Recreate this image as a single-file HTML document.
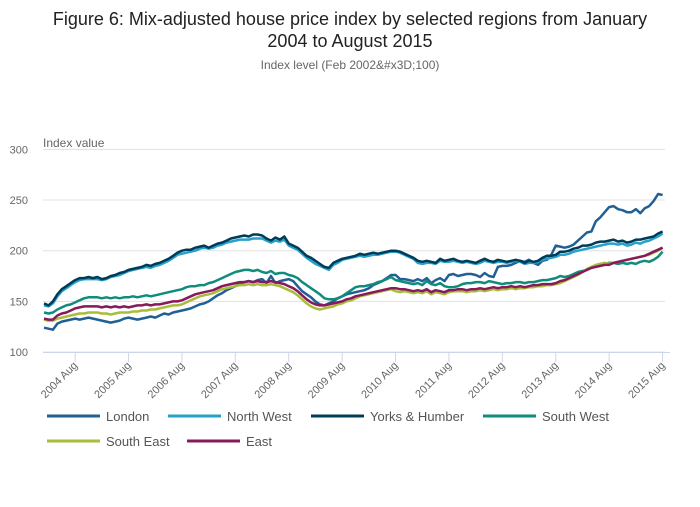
<!DOCTYPE html>
<html><head><meta charset="utf-8"><style>
body{margin:0;background:#fff;font-family:"Liberation Sans",sans-serif;}
svg text{font-family:"Liberation Sans",sans-serif;}
</style></head><body>
<svg id="chart" width="700" height="502" viewBox="0 0 700 502" xmlns="http://www.w3.org/2000/svg">
<text x="350" y="25" text-anchor="middle" font-size="18" fill="#222">Figure 6: Mix-adjusted house price index by selected regions from January</text>
<text x="350" y="47" text-anchor="middle" font-size="18" fill="#222">2004 to August 2015</text>
<text x="350" y="69" text-anchor="middle" font-size="12" fill="#666">Index level (Feb 2002&amp;#x3D;100)</text>
<text x="43" y="147" font-size="12" fill="#666">Index value</text>
<g id="grid"></g><g id="xaxis"></g><g id="series"></g><g id="legend"></g>
</svg>
<script>
const yTicks=[100,150,200,250,300];
const xTickLabels=["2004 Aug","2005 Aug","2006 Aug","2007 Aug","2008 Aug","2009 Aug","2010 Aug","2011 Aug","2012 Aug","2013 Aug","2014 Aug","2015 Aug"];
const seriesNames=["London","North West","Yorks & Humber","South West","South East","East"];
const seriesColors=["#206095","#27a0cc","#003c57","#118c7b","#a8bd3a","#871a5b"];
const london=[124,123,122,128,130,131,132,133,132,133,134,133,132,131,130,129,130,131,133,134,133,132,133,134,135,134,136,138,137,139,140,141,142,143,145,147,148,150,153,156,158,161,163,165,167,169,170,169,171,172,168,175,168,170,171,172,170,165,160,157,154,150,147,146,148,150,153,155,157,158,159,160,161,163,166,168,170,173,176,176,172,172,171,170,172,170,173,168,171,173,170,176,177,175,176,177,177,176,174,178,175,174,184,185,185,186,188,190,189,191,188,186,190,191,196,205,204,203,204,206,210,214,218,219,229,233,238,243,244,241,240,238,238,241,237,242,244,249,256,255];
const northWest=[146,145,148,155,160,163,166,169,171,172,172,172,172,171,172,174,175,176,178,180,181,182,183,184,183,185,186,188,190,193,196,197,198,199,200,202,203,202,203,205,206,208,209,210,211,211,211,212,212,212,210,208,210,209,211,205,203,201,197,193,190,187,185,183,181,186,188,191,192,193,194,195,194,195,196,196,197,198,199,199,198,196,194,192,188,187,188,188,187,190,189,189,190,189,188,189,188,187,188,190,189,188,189,189,188,189,190,189,187,188,188,189,191,192,193,194,196,196,197,199,200,201,202,203,204,205,206,207,207,206,207,205,206,208,207,209,210,212,214,217];
const yorks=[148,146,150,157,162,165,168,171,173,173,174,173,174,172,173,175,176,178,179,181,182,183,184,186,185,187,188,190,192,195,198,200,201,201,203,204,205,203,205,207,208,210,212,213,214,215,214,216,216,215,212,210,213,211,214,207,205,203,199,195,193,190,187,184,183,188,190,192,193,194,195,197,196,197,198,197,198,199,200,200,199,197,195,193,190,189,190,189,188,192,190,191,192,190,189,190,189,188,190,192,190,189,191,190,189,190,191,190,188,190,189,190,193,195,195,196,199,199,200,202,203,205,205,206,208,209,209,210,211,209,210,208,209,211,211,212,213,214,217,219];
const southWest=[139,138,139,142,144,146,147,149,151,153,154,154,154,153,154,153,154,153,154,154,155,154,155,156,155,156,157,158,159,160,161,162,164,165,165,166,166,168,169,171,173,175,177,179,180,181,181,180,181,179,178,180,177,178,178,176,175,173,169,166,163,160,157,153,152,152,153,155,158,161,164,165,165,166,167,169,170,172,174,171,170,169,168,167,168,166,170,167,166,168,165,164,164,165,167,168,168,169,169,168,170,169,168,167,168,168,169,169,168,169,169,170,171,171,172,173,175,174,175,177,179,180,181,183,185,187,187,188,188,187,188,187,188,187,189,190,189,191,194,199];
const southEast=[132,131,131,133,134,135,136,137,138,138,139,139,139,138,138,137,138,139,139,139,140,140,141,141,142,142,143,144,145,146,146,147,149,151,153,155,156,157,158,160,162,163,164,165,166,166,167,166,167,166,166,167,166,165,163,161,159,156,152,148,145,143,142,143,144,145,147,148,150,151,153,155,156,157,158,159,160,161,162,160,159,160,159,158,159,158,160,157,159,158,157,159,160,160,160,159,160,160,161,160,161,162,161,162,162,163,162,163,163,164,164,165,165,166,166,167,168,170,172,174,176,179,182,184,186,187,188,187,188,189,190,191,192,193,194,195,196,198,200,203];
const east=[133,132,132,136,138,139,141,143,144,145,145,145,145,144,145,144,145,144,145,144,145,146,146,147,146,147,147,148,149,150,150,151,153,155,157,158,159,160,161,163,165,166,167,168,169,169,170,169,170,169,169,170,169,168,167,165,163,160,156,152,149,147,146,146,147,148,149,150,152,153,155,156,157,158,159,160,161,162,163,163,162,162,161,160,161,160,162,159,161,160,159,161,161,162,162,161,162,162,163,162,163,164,163,164,164,165,164,165,164,165,166,166,167,167,167,168,170,171,173,175,177,179,181,183,184,185,186,186,188,189,190,191,192,193,194,195,197,199,201,203];
const allSeries=[london,northWest,yorks,southWest,southEast,east];

const NS="http://www.w3.org/2000/svg";
const X0=44, MW=4.45, Y100=352, PPU=1.013;
function xPos(i){return X0+i*MW;}
function yPos(v){return Y100-(v-100)*PPU;}
function mk(tag,attrs,parent){const e=document.createElementNS(NS,tag);for(const k in attrs)e.setAttribute(k,attrs[k]);parent.appendChild(e);return e;}
const grid=document.getElementById('grid');
yTicks.forEach(t=>{
  const l=mk('line',{x1:43,x2:665,y1:yPos(t),y2:yPos(t),stroke:'#e0e0e0','stroke-width':1},grid);
  
  
  const tx=mk('text',{x:28,y:yPos(t)+4,'text-anchor':'end','font-size':11,fill:'#666'},grid);
  tx.textContent=t;
  
  
});
const xa=document.getElementById('xaxis');
const ax=mk('line',{x1:43,x2:670,y1:352.5,y2:352.5,stroke:'#ccd6eb','stroke-width':1},xa);


xTickLabels.forEach((lab,k)=>{
  const x=xPos(7+12*k);
  const tk=mk('line',{x1:x,x2:x,y1:352,y2:362,stroke:'#ccd6eb','stroke-width':1},xa);
  
  
  const tx=mk('text',{x:x+3,y:366,'text-anchor':'end','font-size':11,fill:'#666',transform:`rotate(-45 ${x+3} 366)`},xa);
  tx.textContent=lab;
  
  
});
const sg=document.getElementById('series');
allSeries.forEach((d,s)=>{
  const pts=d.map((v,i)=>xPos(i).toFixed(1)+','+yPos(v).toFixed(1)).join(' ');
  const p=mk('polyline',{points:pts,fill:'none',stroke:seriesColors[s],'stroke-width':2.5,'stroke-linejoin':'round'},sg);
  
  
});
const lg=document.getElementById('legend');
const legPos=[[47,416],[168,416],[311,416],[483,416],[47,441],[187,441]];
seriesNames.forEach((n,s)=>{
  const [x,y]=legPos[s];
  const g=mk('g',{},lg);
  
  
  mk('line',{x1:x,x2:x+53,y1:y,y2:y,stroke:seriesColors[s],'stroke-width':3},g);
  const t=mk('text',{x:x+59,y:y+5,'font-size':13,fill:'#555'},g);
  t.textContent=n;
});
</script>
</body></html>
